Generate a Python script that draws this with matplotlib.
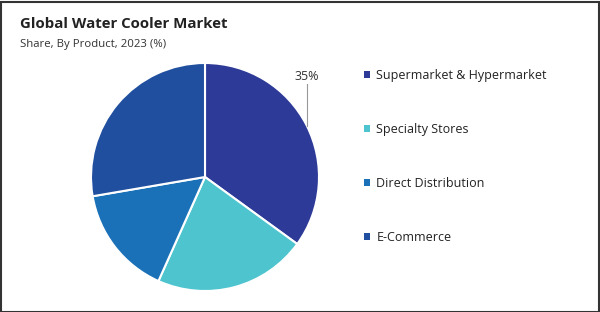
import matplotlib
matplotlib.use("Agg")
import matplotlib.pyplot as plt
from matplotlib.patches import Rectangle

categories = ["Supermarket & Hypermarket", "Specialty Stores", "Direct Distribution", "E-Commerce"]
shares = [35.0, 21.7, 15.6, 27.7]
colors = ["#2d3a97", "#4ec4cf", "#1a71b8", "#1f4f9e"]
shown_label = "35%"

plt.rcParams['font.family'] = ['Open Sans', 'DejaVu Sans']

fig = plt.figure(figsize=(6.0, 3.12), dpi=100)
W, H = 600, 312
cx, cy, r = 205, 177, 114
ax = fig.add_axes([(cx - r) / W, (H - cy - r) / H, 2 * r / W, 2 * r / H])
wedges, _ = ax.pie(shares, colors=colors, startangle=90, counterclock=False,
                   radius=1.0, wedgeprops=dict(edgecolor="white", linewidth=1.5))
ax.set_xlim(-1, 1)
ax.set_ylim(-1, 1)
ax.set_aspect("equal")
ax.axis("off")

# leader line + label for first slice
lx = (307 - cx) / r
ax.plot([lx, lx], [(cy - 126) / r, (cy - 84) / r], color="#999999", lw=0.8, clip_on=False)
ax.text(lx, (cy - 76) / r, shown_label, ha="center", va="center", fontsize=9, color="#333333")

fig.text(20 / W, 1 - 24 / H, "Global Water Cooler Market", fontsize=10.8, fontweight="bold",
         color="#222222", ha="left", va="center")
fig.text(20 / W, 1 - 45 / H, "Share, By Product, 2023 (%)", fontsize=8.2,
         color="#333333", ha="left", va="center")

leg = fig.legend(wedges, categories, loc="upper left", bbox_to_anchor=(364 / W, 1 - 69 / H),
                 frameon=False, fontsize=9, handlelength=0.5, handleheight=0.5,
                 handletextpad=0.5, labelspacing=3.27, borderpad=0, borderaxespad=0)
for t in leg.get_texts():
    t.set_color("#222222")
for h in leg.legend_handles:
    h.set_edgecolor("none")

fig.patches.append(Rectangle((0.5 / W, 0.5 / H), 1 - 2 / W, 1 - 2 / H, transform=fig.transFigure,
                             fill=False, edgecolor="#333333", linewidth=1.5))

fig.savefig("out.png", dpi=100)
